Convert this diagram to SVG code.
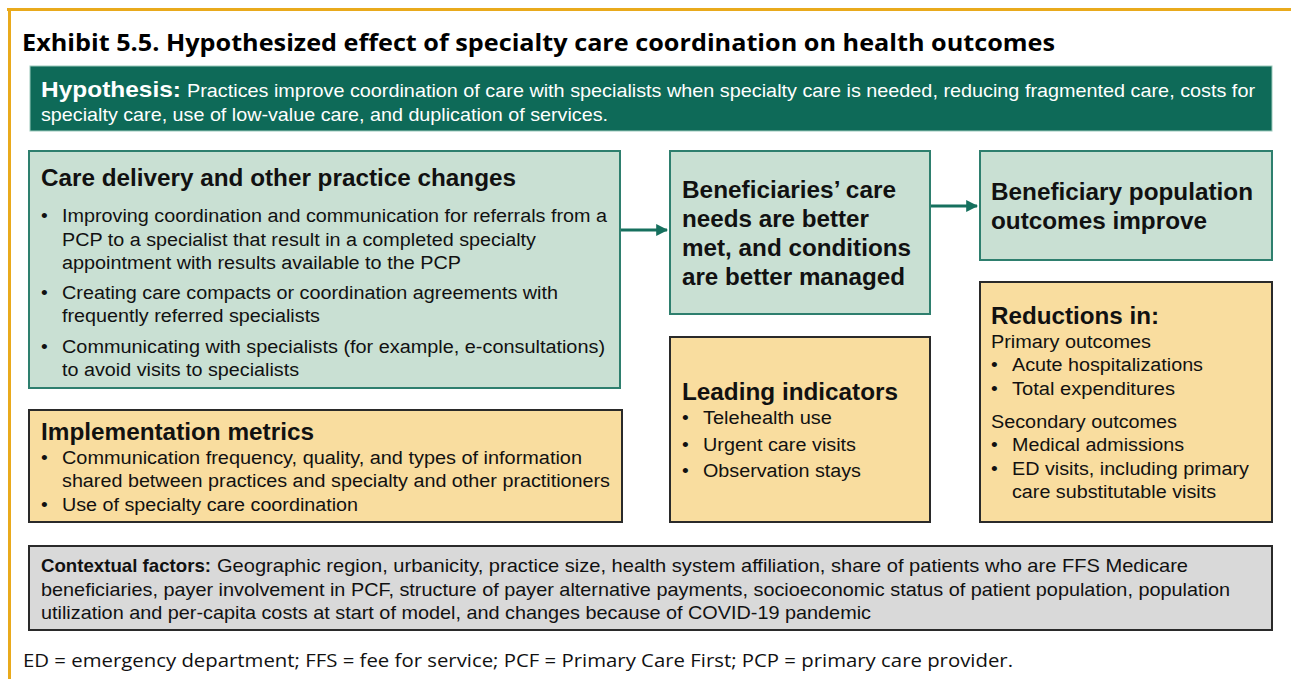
<svg xmlns="http://www.w3.org/2000/svg" width="1291" height="679" viewBox="0 0 1291 679">
<defs>
<style>
.t{font-family:"Liberation Sans",Arial,sans-serif;fill:#111}
.h{font-weight:bold;font-size:23.5px}
.b{font-size:19.2px}
.w{fill:#fff}
.g{fill:#C9E0D3;stroke:#2E7F6E;stroke-width:2}
.y{fill:#F9DD9F;stroke:#2a2a2a;stroke-width:2}
.c{stroke:#16705E;stroke-width:3;fill:none}
</style>
<marker id="ah" viewBox="0 0 10 10" refX="9" refY="5" markerWidth="4" markerHeight="4" orient="auto" markerUnits="strokeWidth">
<path d="M0,0 L10,5 L0,10 z" fill="#16705E"/>
</marker>
</defs>
<rect width="1291" height="679" fill="#fff"/>
<g id="frame">
<line x1="7" y1="9.5" x2="1291" y2="9.5" stroke="#E9AA1C" stroke-width="3"/>
<line x1="9.5" y1="8" x2="9.5" y2="679" stroke="#E9AA1C" stroke-width="3"/>
</g>
<text x="22" y="51" font-family="'Open Sans','Noto Sans',sans-serif" font-weight="bold" font-size="24" fill="#000" textLength="1033" lengthAdjust="spacingAndGlyphs">Exhibit 5.5. Hypothesized effect of specialty care coordination on health outcomes</text>

<g id="hypothesis">
<rect x="30" y="66" width="1242" height="65" fill="#0E6A58" stroke="#9ccabc" stroke-width="1"/>
<text class="t w" x="41" y="97" font-weight="bold" font-size="22" textLength="140" lengthAdjust="spacingAndGlyphs">Hypothesis:</text>
<text class="t w" x="187" y="97" font-size="18.5" textLength="1068" lengthAdjust="spacingAndGlyphs">Practices improve coordination of care with specialists when specialty care is needed, reducing fragmented care, costs for</text>
<text class="t w" x="41" y="121" font-size="18.5" textLength="567" lengthAdjust="spacingAndGlyphs">specialty care, use of low-value care, and duplication of services.</text>
</g>

<g id="care-delivery">
<rect class="g" x="29" y="151" width="591" height="237"/>
<text class="t h" x="41" y="186" textLength="475" lengthAdjust="spacingAndGlyphs">Care delivery and other practice changes</text>
<g class="t b">
<text x="41" y="222">•</text><text x="62" y="222" textLength="545" lengthAdjust="spacingAndGlyphs">Improving coordination and communication for referrals from a</text>
<text x="62" y="246" textLength="474" lengthAdjust="spacingAndGlyphs">PCP to a specialist that result in a completed specialty</text>
<text x="62" y="269" textLength="399" lengthAdjust="spacingAndGlyphs">appointment with results available to the PCP</text>
<text x="41" y="299">•</text><text x="62" y="299" textLength="496" lengthAdjust="spacingAndGlyphs">Creating care compacts or coordination agreements with</text>
<text x="62" y="322" textLength="258" lengthAdjust="spacingAndGlyphs">frequently referred specialists</text>
<text x="41" y="353">•</text><text x="62" y="353" textLength="543" lengthAdjust="spacingAndGlyphs">Communicating with specialists (for example, e-consultations)</text>
<text x="62" y="376" textLength="237" lengthAdjust="spacingAndGlyphs">to avoid visits to specialists</text>
</g>
</g>

<g id="beneficiaries-needs">
<rect class="g" x="670" y="151" width="260" height="163"/>
<g class="t h">
<text x="682" y="198" textLength="214" lengthAdjust="spacingAndGlyphs">Beneficiaries’ care</text>
<text x="682" y="227" textLength="187" lengthAdjust="spacingAndGlyphs">needs are better</text>
<text x="682" y="256" textLength="229" lengthAdjust="spacingAndGlyphs">met, and conditions</text>
<text x="682" y="285" textLength="223" lengthAdjust="spacingAndGlyphs">are better managed</text>
</g>
</g>

<g id="population-outcomes">
<rect class="g" x="980" y="151" width="292" height="109"/>
<g class="t h">
<text x="991" y="200" textLength="262" lengthAdjust="spacingAndGlyphs">Beneficiary population</text>
<text x="991" y="229" textLength="216" lengthAdjust="spacingAndGlyphs">outcomes improve</text>
</g>
</g>

<g id="implementation-metrics">
<rect class="y" x="29" y="410" width="593" height="112"/>
<text class="t h" x="41" y="440" textLength="273" lengthAdjust="spacingAndGlyphs">Implementation metrics</text>
<g class="t b">
<text x="41" y="464">•</text><text x="62" y="464" textLength="520" lengthAdjust="spacingAndGlyphs">Communication frequency, quality, and types of information</text>
<text x="62" y="487" textLength="548" lengthAdjust="spacingAndGlyphs">shared between practices and specialty and other practitioners</text>
<text x="41" y="511">•</text><text x="62" y="511" textLength="296" lengthAdjust="spacingAndGlyphs">Use of specialty care coordination</text>
</g>
</g>

<g id="leading-indicators">
<rect class="y" x="670" y="337" width="260" height="185"/>
<text class="t h" x="682" y="400" textLength="216" lengthAdjust="spacingAndGlyphs">Leading indicators</text>
<g class="t b">
<text x="682" y="424">•</text><text x="703" y="424" textLength="129" lengthAdjust="spacingAndGlyphs">Telehealth use</text>
<text x="682" y="451">•</text><text x="703" y="451" textLength="153" lengthAdjust="spacingAndGlyphs">Urgent care visits</text>
<text x="682" y="477">•</text><text x="703" y="477" textLength="158" lengthAdjust="spacingAndGlyphs">Observation stays</text>
</g>
</g>

<g id="reductions">
<rect class="y" x="980" y="282" width="292" height="240"/>
<text class="t h" x="991" y="324" textLength="168" lengthAdjust="spacingAndGlyphs">Reductions in:</text>
<g class="t b">
<text x="991" y="348" textLength="160" lengthAdjust="spacingAndGlyphs">Primary outcomes</text>
<text x="991" y="371">•</text><text x="1012" y="371" textLength="191" lengthAdjust="spacingAndGlyphs">Acute hospitalizations</text>
<text x="991" y="395">•</text><text x="1012" y="395" textLength="163" lengthAdjust="spacingAndGlyphs">Total expenditures</text>
<text x="991" y="428" textLength="186" lengthAdjust="spacingAndGlyphs">Secondary outcomes</text>
<text x="991" y="451">•</text><text x="1012" y="451" textLength="172" lengthAdjust="spacingAndGlyphs">Medical admissions</text>
<text x="991" y="475">•</text><text x="1012" y="475" textLength="237" lengthAdjust="spacingAndGlyphs">ED visits, including primary</text>
<text x="1012" y="498" textLength="204" lengthAdjust="spacingAndGlyphs">care substitutable visits</text>
</g>
</g>

<g id="contextual-factors">
<rect x="29" y="546" width="1243" height="84" fill="#D9D9D9" stroke="#2a2a2a" stroke-width="2"/>
<g class="t" font-size="18.5">
<text x="41" y="572" font-weight="bold" textLength="170" lengthAdjust="spacingAndGlyphs">Contextual factors:</text>
<text x="217" y="572" textLength="971" lengthAdjust="spacingAndGlyphs">Geographic region, urbanicity, practice size, health system affiliation, share of patients who are FFS Medicare</text>
<text x="41" y="596" textLength="1189" lengthAdjust="spacingAndGlyphs">beneficiaries, payer involvement in PCF, structure of payer alternative payments, socioeconomic status of patient population, population</text>
<text x="41" y="619" textLength="830" lengthAdjust="spacingAndGlyphs">utilization and per-capita costs at start of model, and changes because of COVID-19 pandemic</text>
</g>
</g>

<text x="23" y="667" font-family="'Open Sans','Noto Sans',sans-serif" font-size="19" fill="#111" textLength="990" lengthAdjust="spacingAndGlyphs">ED = emergency department; FFS = fee for service; PCF = Primary Care First; PCP = primary care provider.</text>

<g id="connectors">
<line class="c" x1="621" y1="230" x2="667" y2="230" marker-end="url(#ah)"/>
<line class="c" x1="931" y1="206" x2="977" y2="206" marker-end="url(#ah)"/>
</g>
</svg>
